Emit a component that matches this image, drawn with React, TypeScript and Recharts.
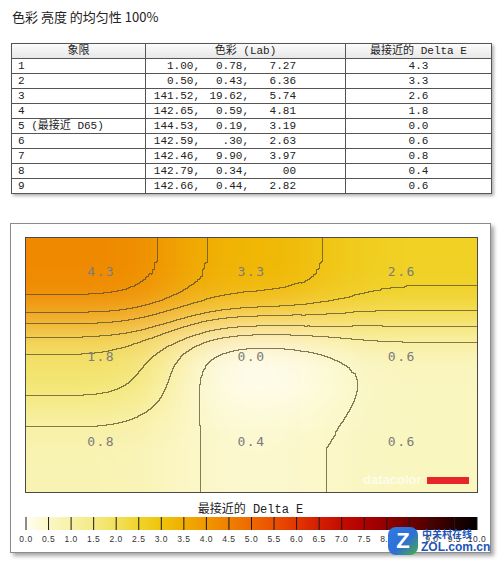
import { ScatterChart, Scatter, XAxis, YAxis, ReferenceLine, ReferenceArea } from 'recharts';

const titleText = '色彩 亮度 的均匀性 100%';
const legendTitle = '最接近的 Delta E';

// table columns
const quadrants = ['1', '2', '3', '4', '5 (最接近 D65)', '6', '7', '8', '9'];
const labL = ['1.00', '0.50', '141.52', '142.65', '144.53', '142.59', '142.46', '142.79', '142.66'];
const labA = ['0.78', '0.43', '19.62', '0.59', '0.19', '.30', '9.90', '0.34', '0.44'];
const labB = ['7.27', '6.36', '5.74', '4.81', '3.19', '2.63', '3.97', '00', '2.82'];
const deltaE = [4.3, 3.3, 2.6, 1.8, 0.0, 0.6, 0.8, 0.4, 0.6];

// where each quadrant sits in the 3x3 map
const gridCols = [0, 1, 2, 0, 1, 2, 0, 1, 2];
const gridRows = [0, 0, 0, 1, 1, 1, 2, 2, 2];

const legendTicks = [0, 0.5, 1, 1.5, 2, 2.5, 3, 3.5, 4, 4.5, 5, 5.5, 6, 6.5, 7, 7.5, 8, 8.5, 9, 9.5, 10];

// colour scale (delta E -> colour)
const colorStops: [number, string][] = [
  [0, '#fffef2'], [0.5, '#fbf7c6'], [1, '#f8f1a6'], [1.5, '#f5ea84'], [2, '#f2e05a'],
  [2.5, '#f0d42a'], [3, '#efc40a'], [3.5, '#f0ae00'], [4, '#f09600'], [4.5, '#ef8000'],
  [5, '#ee6800'], [5.5, '#ea5000'], [6, '#e23600'], [6.5, '#d41e00'], [7, '#c40c00'],
  [7.5, '#b00000'], [8, '#900000'], [8.5, '#700000'], [9, '#4a0000'], [9.5, '#240000'], [10, '#000000'],
];

const hex = (c: string) => [1, 3, 5].map(i => parseInt(c.slice(i, i + 2), 16));
function colorFor(v: number) {
  for (let i = 0; i < colorStops.length - 1; i++) {
    const [v0, c0] = colorStops[i];
    const [v1, c1] = colorStops[i + 1];
    if (v <= v1) {
      const t = (v - v0) / (v1 - v0);
      const a = hex(c0), b = hex(c1);
      const m = a.map((x, k) => Math.round(x + (b[k] - x) * t));
      return `rgb(${m[0]},${m[1]},${m[2]})`;
    }
  }
  return colorStops[colorStops.length - 1][1];
}

const heatData = deltaE.map((v, i) => ({ x: gridCols[i] + 0.5, y: gridRows[i] + 0.5, v, col: gridCols[i], row: gridRows[i] }));
const legendData = legendTicks.map(t => ({ x: t, y: 0.5 }));

// plot area inside the panel chart
const PW = 451, PH = 254, ML = 15, MT = 14;
const CELL_W = PW / 3, CELL_H = PH / 3, EXT = 140;

function cellShape(props: any, fill: string) {
  const { cx, cy, payload } = props;
  let x0 = cx - CELL_W / 2, x1 = cx + CELL_W / 2, y0 = cy - CELL_H / 2, y1 = cy + CELL_H / 2;
  if (payload.col === 0) x0 -= EXT;
  if (payload.col === 2) x1 += EXT;
  if (payload.row === 0) y0 -= EXT;
  if (payload.row === 2) y1 += EXT;
  return <rect x={x0} y={y0} width={x1 - x0} height={y1 - y0} fill={fill} />;
}

const ColorCell = (p: any) => cellShape(p, colorFor(p.payload.v));
const GrayCell = (p: any) => {
  const g = Math.round((p.payload.v / 5) * 255);
  return cellShape(p, `rgb(${g},${g},${g})`);
};
const ValueLabel = (p: any) => (
  <text x={p.cx} y={p.cy - 4} textAnchor="middle" fontSize={13} letterSpacing={1.5}
    fontFamily="'DejaVu Sans Mono', monospace" fill="#7c7c7c">
    {p.payload.v.toFixed(1)}
  </text>
);
const NoMark = () => <g />;

const mono = "'Liberation Mono', 'Noto Sans CJK SC', monospace";
const td: React.CSSProperties = {
  border: '1px solid #555', height: 14, lineHeight: '14px', padding: '0 6px',
  fontSize: 11, fontFamily: mono, color: '#222', whiteSpace: 'nowrap', overflow: 'hidden',
};

// big blur done as a chain of smaller ones (smoother result)
const blurChain = (last: string) => (
  <>
    <feGaussianBlur in="SourceGraphic" stdDeviation="20 12" result="p1" />
    <feGaussianBlur in="p1" stdDeviation="20 12" result="p2" />
    <feGaussianBlur in="p2" stdDeviation="20 12" result="p3" />
    <feGaussianBlur in="p3" stdDeviation="20 12" result="p4" />
    <feGaussianBlur in="p4" stdDeviation="3" result={last} />
  </>
);

export default function App() {
  return (
    <div style={{ position: 'absolute', left: 0, top: 0, width: 500, height: 567, background: '#fff', overflow: 'hidden' }}>
      <style>{`
        .heat-color { filter: url(#heatBlur); clip-path: url(#heatClip); }
        .heat-lines { filter: url(#heatContours); clip-path: url(#heatClip); }
      `}</style>
      <svg width={0} height={0} style={{ position: 'absolute' }}>
        <defs>
          <clipPath id="heatClip">
            <rect x={ML} y={MT} width={PW} height={PH} />
          </clipPath>
          <filter id="heatBlur" filterUnits="userSpaceOnUse" x={-200} y={-200} width={900} height={700} colorInterpolationFilters="sRGB">
            {blurChain('out')}
          </filter>
          <filter id="heatContours" filterUnits="userSpaceOnUse" x={-200} y={-200} width={900} height={700} colorInterpolationFilters="sRGB">
            {blurChain('blur')}
            <feComponentTransfer in="blur" result="band">
              <feFuncR type="discrete" tableValues="0 1 0 1 0 1 0 1 0 1" />
            </feComponentTransfer>
            <feColorMatrix in="band" type="matrix" values="0 0 0 0 0  0 0 0 0 0  0 0 0 0 0  1 0 0 0 0" result="bandA" />
            <feMorphology in="bandA" operator="dilate" radius="1" result="dil" />
            <feComposite in="dil" in2="bandA" operator="out" result="edge0" />
            <feGaussianBlur in="edge0" stdDeviation="0.4" result="edge" />
            <feFlood floodColor="#55492a" floodOpacity="0.72" result="ink" />
            <feComposite in="ink" in2="edge" operator="in" />
          </filter>
          <linearGradient id="cbGrad" x1="0" y1="0" x2="1" y2="0">
            {colorStops.map(([v, c]) => <stop key={v} offset={v / 10} stopColor={c} />)}
          </linearGradient>
        </defs>
      </svg>

      <div style={{ position: 'absolute', left: 12, top: 9, fontSize: 13, lineHeight: '16px', fontFamily: "'Noto Sans CJK SC', sans-serif", color: '#222' }}>
        {titleText}
      </div>

      <table style={{ position: 'absolute', left: 11, top: 43, width: 480, borderCollapse: 'collapse', tableLayout: 'fixed', boxShadow: '2px 2px 3px rgba(0,0,0,0.3)', background: '#fff' }}>
        <colgroup>
          <col style={{ width: 134 }} />
          <col style={{ width: 200 }} />
          <col style={{ width: 146 }} />
        </colgroup>
        <thead>
          <tr style={{ background: 'linear-gradient(#fbfbfb, #e6e6e6)' }}>
            <td style={{ ...td, textAlign: 'center' }}>象限</td>
            <td style={{ ...td, textAlign: 'center' }}>色彩 (Lab)</td>
            <td style={{ ...td, textAlign: 'center' }}>最接近的 Delta E</td>
          </tr>
        </thead>
        <tbody>
          {quadrants.map((q, i) => (
            <tr key={q}>
              <td style={td}>{q}</td>
              <td style={{ ...td, padding: 0 }}>
                <span style={{ display: 'inline-block', width: 54, textAlign: 'right' }}>{labL[i]},</span>
                <span style={{ display: 'inline-block', width: 49, textAlign: 'right' }}>{labA[i]},</span>
                <span style={{ display: 'inline-block', width: 47, textAlign: 'right' }}>{labB[i]}</span>
              </td>
              <td style={{ ...td, textAlign: 'center' }}>{deltaE[i].toFixed(1)}</td>
            </tr>
          ))}
        </tbody>
      </table>

      {/* chart panel */}
      <div style={{ position: 'absolute', left: 10, top: 223, width: 479, height: 328, border: '1px solid #8c8c8c', boxShadow: '3px 3px 4px rgba(0,0,0,0.35)', background: '#fff' }}>
        <div style={{ position: 'absolute', left: 0, top: 0 }}>
          <ScatterChart width={479} height={328} margin={{ top: MT, left: ML, right: 479 - ML - PW, bottom: 328 - MT - PH }}>
            <XAxis type="number" dataKey="x" domain={[0, 3]} hide />
            <YAxis type="number" dataKey="y" domain={[0, 3]} reversed hide />
            <Scatter data={heatData} className="heat-color" shape={ColorCell} isAnimationActive={false} />
            <Scatter data={heatData} className="heat-lines" shape={GrayCell} isAnimationActive={false} />
            <ReferenceLine x={1} stroke="rgba(170,170,170,0.8)" />
            <ReferenceLine x={2} stroke="rgba(170,170,170,0.8)" />
            <ReferenceLine y={1} stroke="rgba(170,170,170,0.8)" />
            <ReferenceLine y={2} stroke="rgba(170,170,170,0.8)" />
            <Scatter data={heatData} shape={ValueLabel} isAnimationActive={false} />
          </ScatterChart>
        </div>
        {/* plot frame */}
        <div style={{ position: 'absolute', left: ML - 1, top: MT - 1, width: PW, height: PH, border: '1px solid #4a4a4a', pointerEvents: 'none' }} />
        {/* datacolor mark */}
        <div style={{ position: 'absolute', left: 352, top: 248, fontSize: 13, fontWeight: 'bold', fontFamily: "'Liberation Sans', sans-serif", color: 'rgba(255,255,255,0.7)' }}>datacolor</div>
        <div style={{ position: 'absolute', left: 416, top: 253, width: 42, height: 7, background: '#e8262a' }} />

        <div style={{ position: 'absolute', left: 0, top: 279, width: 479, textAlign: 'center', fontSize: 12, lineHeight: '14px', fontFamily: mono, color: '#222' }}>
          {legendTitle}
        </div>
        <div style={{ position: 'absolute', left: 0, top: 288 }}>
          <ScatterChart width={479} height={50} margin={{ top: 5, left: ML, right: 479 - ML - PW, bottom: 12 }}>
            <XAxis type="number" dataKey="x" domain={[0, 10]} ticks={legendTicks} interval={0}
              tickLine={false} axisLine={false} height={20} tickSize={4}
              tickFormatter={(t: number) => t.toFixed(1)}
              tick={{ fontSize: 8.5, fill: '#333', fontFamily: "'Liberation Sans', sans-serif", letterSpacing: 0.5 }} />
            <YAxis type="number" dataKey="y" domain={[0, 1]} hide />
            <ReferenceArea x1={0} x2={10} y1={0} y2={1} fill="url(#cbGrad)" fillOpacity={1} stroke="none" />
            {legendTicks.map(t => <ReferenceLine key={t} x={t} stroke="#1a1a1a" />)}
            <Scatter data={legendData} shape={NoMark} isAnimationActive={false} />
          </ScatterChart>
        </div>
      </div>

      {/* zol watermark */}
      <div style={{ position: 'absolute', left: 388, top: 527, width: 30, height: 28, borderRadius: 8, background: 'linear-gradient(135deg, #2f7be0 0%, #2e6fd6 55%, #4caf3c 100%)', color: '#fff', fontWeight: 'bold', fontSize: 22, lineHeight: '28px', textAlign: 'center', fontFamily: "'Liberation Sans', sans-serif" }}>Z</div>
      <div style={{ position: 'absolute', left: 422, top: 528, fontSize: 10, lineHeight: '11px', fontWeight: 'bold', color: '#1d55b5', fontFamily: "'Noto Sans CJK SC', sans-serif" }}>中关村在线</div>
      <div style={{ position: 'absolute', left: 421, top: 541, fontSize: 12, lineHeight: '13px', fontWeight: 'bold', color: '#1d55b5', fontFamily: "'Liberation Sans', sans-serif" }}>ZOL.com.cn</div>
    </div>
  );
}
